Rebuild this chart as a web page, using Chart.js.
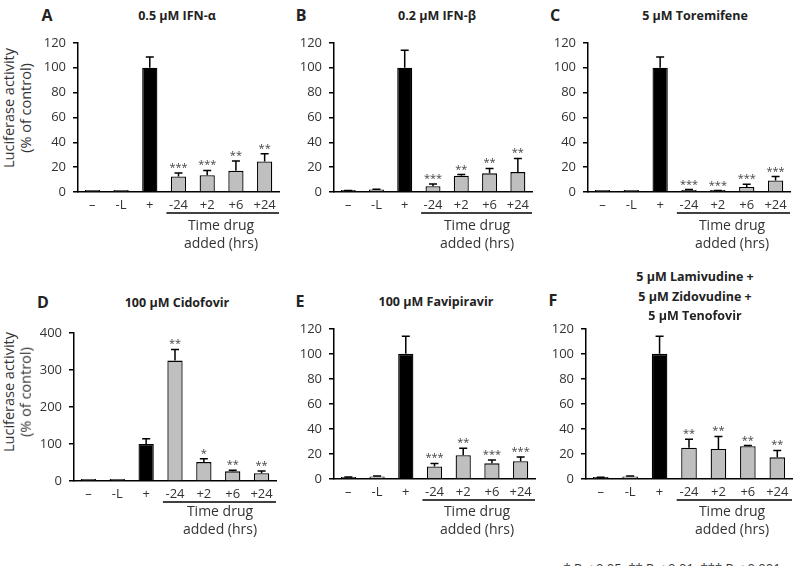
<!DOCTYPE html>
<html>
<head>
<meta charset="utf-8">
<script src="https://cdn.jsdelivr.net/npm/chart.js@4.4.1/dist/chart.umd.min.js"></script>
<style>
  html, body { margin: 0; padding: 0; background: #fff; }
  body { position: relative; width: 797px; height: 566px; overflow: hidden; font-family: "Open Sans", sans-serif; color: #333; }
  canvas { position: absolute; }
  .txt { position: absolute; white-space: nowrap; transform: translate(-50%, -50%); font-size: 13px; line-height: 1; }
  .bold { font-weight: bold; }
</style>
</head>
<body>
<script>
const categories = ['\u2013', '-L', '+', '-24', '+2', '+6', '+24'];

const valuesA = [0.5, 1, 100, 12.5, 13.5, 17, 24.5];
const errorsA = [0, 0, 8.5, 2.7, 3.8, 8, 6.2];
const starsA = ['', '', '', '***', '***', '**', '**'];

const valuesB = [1, 2, 100, 4.7, 13, 15, 16];
const errorsB = [0.3, 0.3, 14, 1.8, 1, 4, 11];
const starsB = ['', '', '', '***', '**', '**', '**'];

const valuesC = [0.3, 0.5, 100, 1.5, 0.8, 4, 9.2];
const errorsC = [0, 0, 8.6, 0.5, 0.4, 2.2, 3.2];
const starsC = ['', '', '', '***', '***', '***', '***'];

const valuesD = [1.5, 2, 100, 325, 51, 26, 21];
const errorsD = [0, 0, 14, 30, 9, 3, 6];
const starsD = ['', '', '', '**', '*', '**', '**'];

const valuesE = [1, 2, 100, 10, 19, 12.5, 14.2];
const errorsE = [0.5, 0.3, 14, 2.4, 5.5, 2.6, 3.4];
const starsE = ['', '', '', '***', '**', '***', '***'];

const valuesF = [1, 2, 100, 25, 24, 26.2, 17.3];
const errorsF = [0.3, 0.3, 14, 6.8, 10, 0.5, 5.5];
const starsF = ['', '', '', '**', '**', '**', '**'];

const textColor = '#333';
const tickFont = { family: 'Open Sans', size: 13 };

function addText(text, x, y, cls, extra) {
  const d = document.createElement('div');
  d.className = 'txt ' + (cls || '');
  d.textContent = text;
  d.style.left = x + 'px';
  d.style.top = y + 'px';
  if (extra) Object.assign(d.style, extra);
  document.body.appendChild(d);
}

// upper error bars, significance stars, and the underline below the timed groups
const errorBarPlugin = {
  id: 'errorBars',
  afterDatasetsDraw(chart) {
    const { ctx, scales: { x, y } } = chart;
    const { errors, stars } = chart.options.plugins.errorBars;
    const values = chart.data.datasets[0].data;
    const meta = chart.getDatasetMeta(0);
    ctx.save();
    ctx.strokeStyle = '#000';
    ctx.lineWidth = 1.5;
    meta.data.forEach((bar, i) => {
      const top = y.getPixelForValue(values[i]);
      const cap = y.getPixelForValue(values[i] + errors[i]);
      if (errors[i] > 0) {
        ctx.beginPath();
        ctx.moveTo(bar.x, top);
        ctx.lineTo(bar.x, cap);
        ctx.moveTo(bar.x - 4, cap);
        ctx.lineTo(bar.x + 4, cap);
        ctx.stroke();
      }
      if (stars[i]) {
        ctx.fillStyle = '#444';
        ctx.font = '11px "Open Sans"';
        ctx.textAlign = 'center';
        ctx.textBaseline = 'alphabetic';
        ctx.fillText(stars[i], bar.x, Math.min(cap, top) - 2);
      }
    });
    const cw = x.getPixelForValue(1) - x.getPixelForValue(0);
    const ly = y.bottom + 21;
    ctx.lineWidth = 1.5;
    ctx.beginPath();
    ctx.moveTo(x.getPixelForValue(3) - cw * 0.42, ly);
    ctx.lineTo(x.right, ly);
    ctx.stroke();
    ctx.restore();
  }
};

function makePanel(area, max, step, values, errors, stars) {
  const yw = 40, xh = 30, padTop = 10, padRight = 5;
  const canvas = document.createElement('canvas');
  const w = area.right - area.left + yw + padRight;
  const h = area.bottom - area.top + padTop + xh;
  canvas.width = w;
  canvas.height = h;
  canvas.style.left = (area.left - yw) + 'px';
  canvas.style.top = (area.top - padTop) + 'px';
  canvas.style.width = w + 'px';
  canvas.style.height = h + 'px';
  document.body.appendChild(canvas);
  new Chart(canvas, {
    type: 'bar',
    data: {
      labels: categories,
      datasets: [{
        data: values,
        backgroundColor: values.map((v, i) => i === 2 ? '#000' : '#bfbfbf'),
        borderColor: '#000',
        borderWidth: 1.3,
        minBarLength: 2,
        barPercentage: 0.53,
        categoryPercentage: 1
      }]
    },
    options: {
      responsive: false,
      animation: false,
      devicePixelRatio: 1,
      layout: { padding: { top: padTop, right: padRight, left: 0, bottom: 0 } },
      plugins: {
        legend: { display: false },
        tooltip: { enabled: false },
        errorBars: { errors, stars }
      },
      scales: {
        x: {
          grid: { display: false, drawTicks: false },
          border: { color: '#000', width: 1.5 },
          ticks: { color: textColor, font: tickFont, padding: 5, autoSkip: false, maxRotation: 0 },
          afterFit: s => { s.height = xh; }
        },
        y: {
          min: 0,
          max: max,
          ticks: { stepSize: step, color: textColor, font: tickFont, padding: 7 },
          grid: { drawOnChartArea: false, drawTicks: true, tickLength: 5, color: '#000', lineWidth: 1.5 },
          border: { color: '#000', width: 1.5 },
          afterFit: s => { s.width = yw; }
        }
      }
    },
    plugins: [errorBarPlugin]
  });
}

makePanel({ left: 78, right: 279, top: 38, bottom: 192 }, 120, 20, valuesA, errorsA, starsA);
makePanel({ left: 334, right: 532, top: 38, bottom: 192 }, 120, 20, valuesB, errorsB, starsB);
makePanel({ left: 588, right: 790, top: 38, bottom: 192 }, 120, 20, valuesC, errorsC, starsC);
makePanel({ left: 74, right: 276, top: 328, bottom: 481 }, 400, 100, valuesD, errorsD, starsD);
makePanel({ left: 334, right: 535, top: 324, bottom: 479 }, 120, 20, valuesE, errorsE, starsE);
makePanel({ left: 586, right: 792, top: 324, bottom: 479 }, 120, 20, valuesF, errorsF, starsF);

// panel letters and titles
const letterStyle = { fontSize: '16px', color: '#222' };
const titleStyle = { fontSize: '12.5px', color: '#222' };
addText('A', 47, 15, 'bold', letterStyle);
addText('B', 301, 15, 'bold', letterStyle);
addText('C', 555, 15, 'bold', letterStyle);
addText('D', 43, 302, 'bold', letterStyle);
addText('E', 300, 301, 'bold', letterStyle);
addText('F', 553, 300, 'bold', letterStyle);

addText('0.5 \u00b5M IFN-\u03b1', 177, 16, 'bold', titleStyle);
addText('0.2 \u00b5M IFN-\u03b2', 437, 16, 'bold', titleStyle);
addText('5 \u00b5M Toremifene', 695, 16, 'bold', titleStyle);
addText('100 \u00b5M Cidofovir', 177, 303, 'bold', titleStyle);
addText('100 \u00b5M Favipiravir', 436, 302, 'bold', titleStyle);
addText('5 \u00b5M Lamivudine +', 695, 277, 'bold', titleStyle);
addText('5 \u00b5M Zidovudine +', 695, 297, 'bold', titleStyle);
addText('5 \u00b5M Tenofovir', 695, 316, 'bold', titleStyle);

// y axis titles
const rot = { transform: 'translate(-50%, -50%) rotate(-90deg)', fontSize: '14.5px' };
[108, 392].forEach(cy => {
  addText('Luciferase activity', 9, cy, '', rot);
  addText('(% of control)', 26, cy, '', rot);
});

// x group labels
[[221, 225], [477, 225], [732, 225], [220, 511], [477, 511], [732, 511]].forEach(([cx, cy]) => {
  addText('Time drug', cx, cy, '', { fontSize: '14px' });
  addText('added (hrs)', cx, cy + 18, '', { fontSize: '14px' });
});

addText('* P < 0.05, ** P < 0.01, *** P < 0.001', 672, 568);
</script>
</body>
</html>
